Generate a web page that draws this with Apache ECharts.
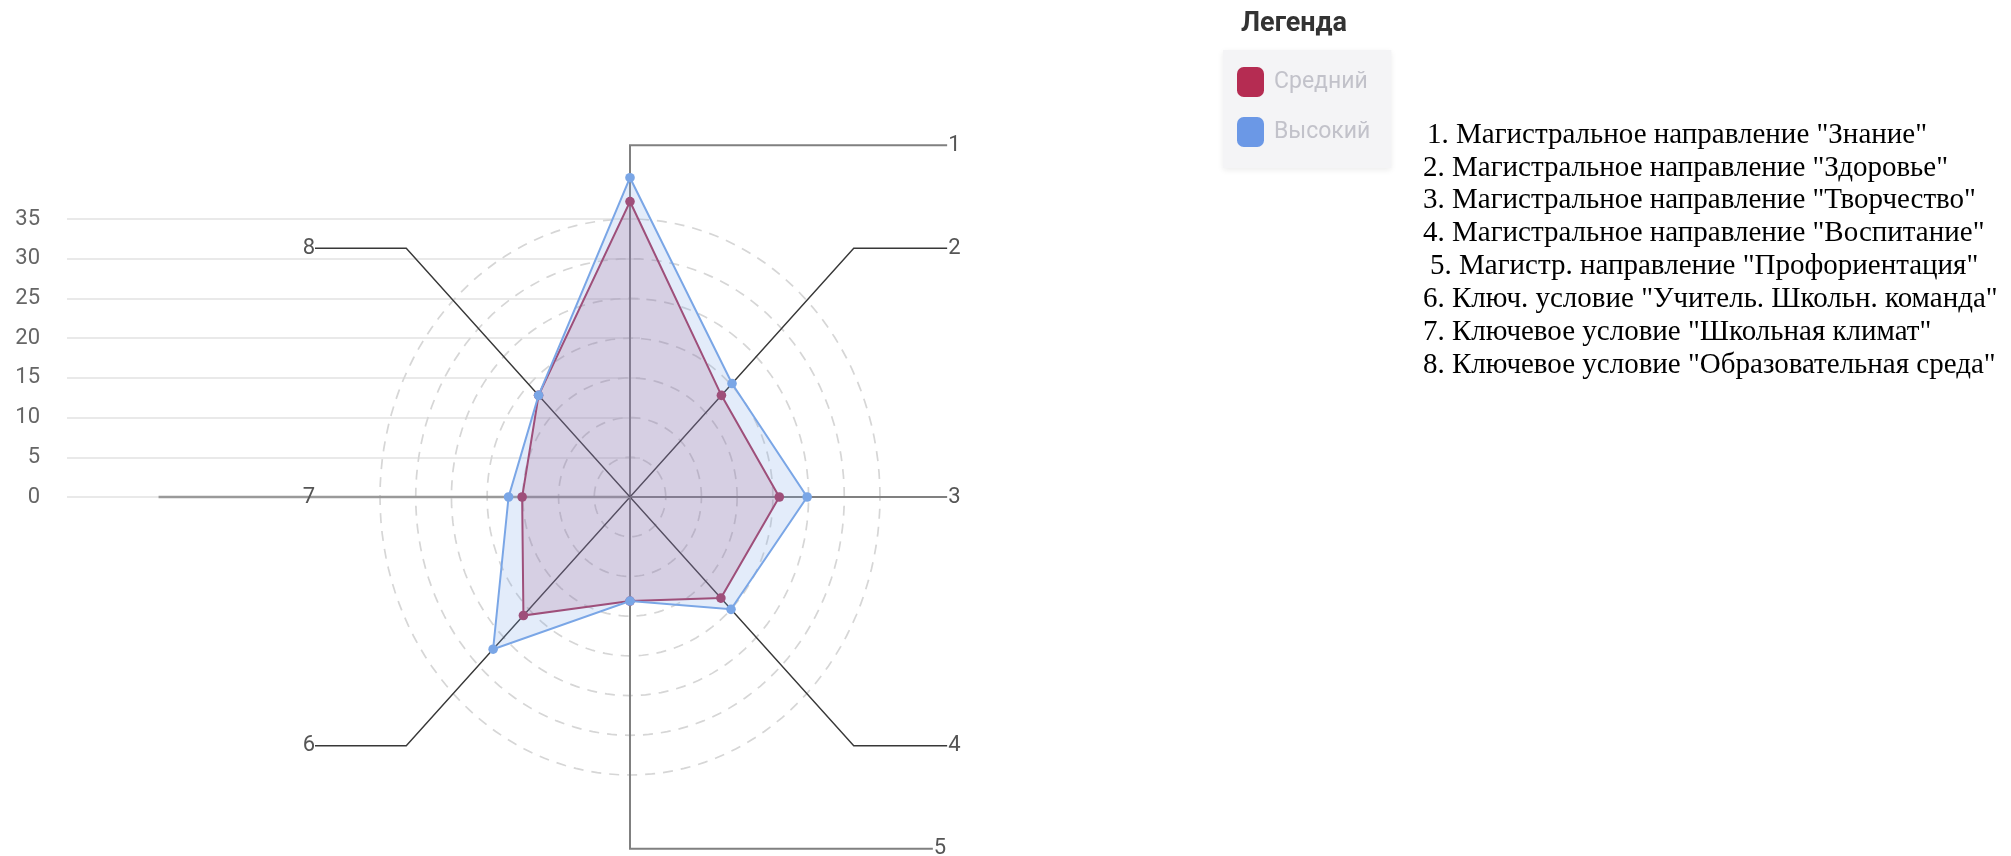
<!DOCTYPE html>
<html>
<head>
<meta charset="utf-8">
<script src="https://cdn.jsdelivr.net/npm/echarts@6/dist/echarts.min.js"></script>
<style>html,body{margin:0;padding:0;background:#fff;}#c{width:2011px;height:856px;}</style>
</head>
<body>
<div id="c"></div>
<script>
// ---- data ----
const categories = ['1', '2', '3', '4', '5', '6', '7', '8'];
const seriesNames = ['Средний', 'Высокий'];
const srednij = [37.2, 18.1, 20.9, 18.0, 13.1, 21.1, 15.1, 18.1];
const vysokij = [40.2, 20.2, 24.8, 20.0, 13.1, 27.1, 17.0, 18.1];
const yTicks = [0, 5, 10, 15, 20, 25, 30, 35];
const legendTitle = 'Легенда';
const listLabels = [
  '1. Магистральное направление "Знание"',
  '2. Магистральное направление "Здоровье"',
  '3. Магистральное направление "Творчество"',
  '4. Магистральное направление "Воспитание"',
  '5. Магистр. направление "Профориентация"',
  '6. Ключ. условие "Учитель. Школьн. команда"',
  '7. Ключевое условие "Школьная климат"',
  '8. Ключевое условие "Образовательная среда"'
];

// ---- layout (not data) ----
const axisLen = 44.3;
const leaderEnd = [44.4, 44.4, 44.4, 44.4, 42.4, -44.1, -66, -44.1];
const labelX = [44.4, 44.4, 44.4, 44.4, 42.4, -44.1, -44.1, -44.1];
const listX = [1427, 1423, 1423, 1423, 1430, 1423, 1423, 1423];
const colors = { red: '#a8385d', blue: '#7aa6e6', redSw: '#b52c52', blueSw: '#6b98e6' };

function ang(i) { return Math.PI / 2 - i * Math.PI / 4; }

const chart = echarts.init(document.getElementById('c'));

function polySeries(name, values, line, fill, z) {
  return {
    type: 'custom', name: name, xAxisIndex: 1, yAxisIndex: 1, clip: false, z: z, silent: true,
    itemStyle: { color: name === seriesNames[0] ? colors.redSw : colors.blueSw },
    data: [values],
    renderItem: function (params, api) {
      const pts = categories.map(function (c, i) {
        const v = api.value(i), a = ang(i);
        return api.coord([v * Math.cos(a), v * Math.sin(a)]);
      });
      const children = [{ type: 'polygon', shape: { points: pts }, style: { fill: fill, stroke: line, lineWidth: 2 } }];
      pts.forEach(function (p) {
        children.push({ type: 'circle', shape: { cx: p[0], cy: p[1], r: 4.8 }, style: { fill: line } });
      });
      return { type: 'group', children: children };
    }
  };
}

const option = {
  backgroundColor: '#fff',
  animation: false,
  title: {
    text: legendTitle, left: 1241, top: 11, padding: 0,
    textStyle: { fontSize: 27, fontWeight: 'bold', color: '#333', fontFamily: 'Roboto' }
  },
  legend: {
    orient: 'vertical', left: 1223, top: 50,
    data: seriesNames.map(function (n) { return { name: n, icon: 'roundRect' }; }),
    itemWidth: 27, itemHeight: 30, itemGap: 20,
    padding: [17, 21, 21, 14],
    backgroundColor: '#f4f4f6',
    shadowBlur: 6, shadowColor: 'rgba(0,0,0,0.08)', shadowOffsetY: 2,
    selectedMode: false,
    textStyle: { color: '#c2c2ca', fontSize: 23, fontFamily: 'Roboto', padding: [0, 0, 0, 5] }
  },
  grid: [
    { left: 67, top: 219, width: 573, height: 278 },
    { left: 380, top: 219, width: 500, height: 556 }
  ],
  xAxis: [
    { gridIndex: 0, type: 'value', show: false, min: 0, max: 1 },
    { gridIndex: 1, type: 'value', show: false, min: -35, max: 35 }
  ],
  yAxis: [
    {
      gridIndex: 0, type: 'value', min: yTicks[0], max: yTicks[yTicks.length - 1], interval: 5,
      axisLine: { show: false }, axisTick: { show: false },
      axisLabel: { color: '#666', fontSize: 22, fontFamily: 'Roboto', margin: 27 },
      splitLine: { lineStyle: { color: '#e2e2e2', width: 1.5 } }
    },
    { gridIndex: 1, type: 'value', show: false, min: -35, max: 35 }
  ],
  series: [
    {
      type: 'custom', xAxisIndex: 1, yAxisIndex: 1, clip: false, z: 1, silent: true,
      data: yTicks.filter(function (v) { return v > 0; }).map(function (v) { return [v, 0]; }),
      renderItem: function (params, api) {
        const v = api.value(0), pts = [];
        for (let k = 0; k <= 144; k++) {
          const a = k / 144 * 2 * Math.PI;
          pts.push(api.coord([v * Math.cos(a), v * Math.sin(a)]));
        }
        return { type: 'polyline', shape: { points: pts }, style: { stroke: '#d6d6d6', lineWidth: 1.7, lineDash: [10, 8], fill: null } };
      }
    },
    {
      type: 'custom', xAxisIndex: 1, yAxisIndex: 1, clip: false, z: 2, silent: true,
      data: categories.map(function (c, i) { return [i, 0]; }),
      renderItem: function (params, api) {
        const i = params.dataIndex, a = ang(i);
        const c0 = api.coord([0, 0]);
        const ex = Math.abs(Math.cos(a)) < 1e-6 ? 0 : axisLen * Math.cos(a);
        const ey = Math.abs(Math.sin(a)) < 1e-6 ? 0 : axisLen * Math.sin(a);
        let pts;
        if (ey === 0) {
          pts = [c0, api.coord([leaderEnd[i], 0])];
        } else {
          pts = [c0, api.coord([ex, ey]), api.coord([leaderEnd[i], ey])];
        }
        const diag = (i % 2 === 1);
        const stroke = diag ? '#383838' : (i === 6 ? '#9a9a9a' : '#808080');
        const lw = diag ? 1.4 : (i === 6 ? 2.5 : 2);
        const lp = api.coord([labelX[i], ey]);
        const right = labelX[i] > 0;
        return {
          type: 'group',
          children: [
            { type: 'polyline', shape: { points: pts }, style: { stroke: stroke, lineWidth: lw, fill: null } },
            {
              type: 'text', x: lp[0] + (right ? 1 : 0), y: lp[1],
              style: { text: categories[i], fill: '#555', fontSize: 22, fontFamily: 'Roboto', align: right ? 'left' : 'right', verticalAlign: 'middle' }
            }
          ]
        };
      }
    },
    polySeries(seriesNames[0], srednij, colors.red, 'rgba(168,56,93,0.18)', 3),
    polySeries(seriesNames[1], vysokij, colors.blue, 'rgba(122,166,230,0.21)', 4)
  ],
  graphic: listLabels.map(function (t, i) {
    return {
      type: 'text', x: listX[i], y: 135 + i * 32.9,
      style: { text: t, fill: '#000', fontSize: 29, fontFamily: '"Liberation Serif", "Times New Roman", serif', verticalAlign: 'middle' }
    };
  })
};
chart.setOption(option);
</script>
</body>
</html>
